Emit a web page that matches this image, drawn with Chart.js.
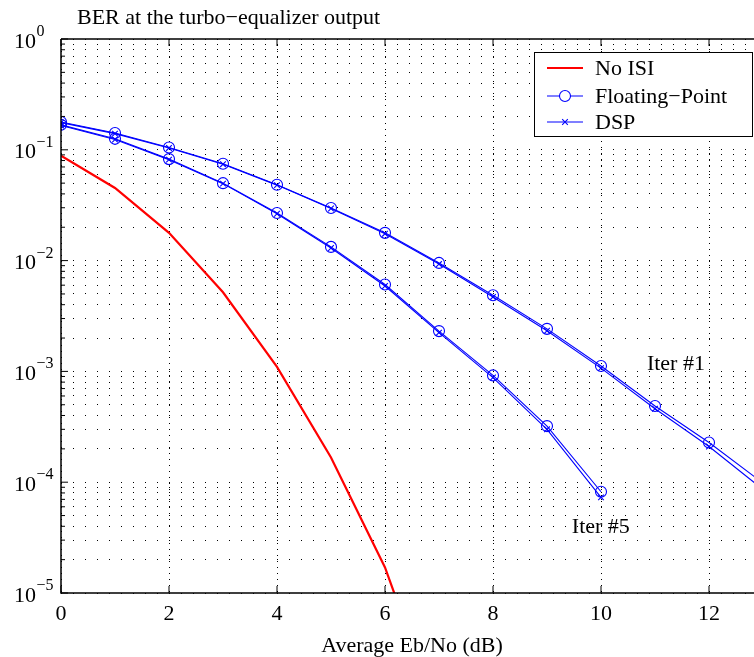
<!DOCTYPE html>
<html>
<head>
<meta charset="utf-8">
<script src="https://cdn.jsdelivr.net/npm/chart.js@4/dist/chart.umd.min.js"></script>
<style>
  html, body { margin: 0; padding: 0; background: #fff; }
  #wrap { width: 754px; height: 657px; overflow: hidden; position: relative; }
</style>
</head>
<body>
<div id="wrap"><canvas id="ber" width="780" height="657"></canvas></div>
<script>
// BER vs Eb/No, turbo-equalizer output
const ebnoNoIsi = [0, 1, 2, 3, 4, 5, 6, 7];
const noIsi = [0.0883, 0.0452, 0.0178, 0.00518, 0.0011, 0.000167, 0.0000170, 0.00000076];

const ebnoIter1 = [0, 1, 2, 3, 4, 5, 6, 7, 8, 9, 10, 11, 12, 13];
const floatIter1 = [0.178, 0.142, 0.105, 0.0748, 0.0484, 0.0298, 0.0178, 0.00953, 0.00487, 0.00242, 0.00112, 0.000487, 0.000228, 0.000098];
const dspIter1 = [0.176, 0.140, 0.104, 0.0742, 0.0480, 0.0295, 0.0175, 0.0093, 0.0047, 0.00233, 0.00107, 0.00046, 0.00021, 0.000086];

const ebnoIter5 = [0, 1, 2, 3, 4, 5, 6, 7, 8, 9, 10];
const floatIter5 = [0.168, 0.1256, 0.0824, 0.050, 0.0269, 0.0133, 0.00608, 0.00231, 0.00092, 0.000321, 0.000082];
const dspIter5 = [0.166, 0.124, 0.0815, 0.0495, 0.0265, 0.0130, 0.0059, 0.00224, 0.00088, 0.000300, 0.000073];

const xTicks = [0, 2, 4, 6, 8, 10, 12];
const yDecades = [0, -1, -2, -3, -4, -5];

const iterLabels = [
    { text: 'Iter #1', x: 10.85, y: 0.00104 },
    { text: 'Iter #5', x: 9.46, y: 0.0000347 }
];

const BLUE = 'rgb(0,0,255)';
const RED = 'rgb(255,0,0)';
const FONT = '"Liberation Serif", "Times New Roman", serif';

function pts(xs, ys) {
    return xs.map((x, i) => ({ x: x, y: ys[i] }));
}

function blueSet(label, xs, ys, style, radius) {
    return {
        label: label,
        data: pts(xs, ys),
        borderColor: BLUE,
        backgroundColor: 'rgba(0,0,0,0)',
        borderWidth: 1.1,
        pointStyle: style,
        pointRadius: radius,
        pointBorderWidth: 1.1,
        tension: 0
    };
}

// draws the axes frame, inside ticks, title, y labels, legend and text notes
const decorPlugin = {
    id: 'decor',
    afterDraw(chart) {
        const ctx = chart.ctx;
        const a = chart.chartArea;
        const xs = chart.scales.x;
        const ys = chart.scales.y;
        ctx.save();

        // frame
        ctx.strokeStyle = '#000';
        ctx.lineWidth = 1.5;
        ctx.beginPath();
        ctx.moveTo(a.left, a.top);
        ctx.lineTo(a.right, a.top);
        ctx.moveTo(a.left, a.top);
        ctx.lineTo(a.left, a.bottom);
        ctx.lineTo(a.right, a.bottom);
        ctx.stroke();

        // inside ticks
        ctx.lineWidth = 1;
        ctx.beginPath();
        xTicks.forEach(v => {
            const px = xs.getPixelForValue(v);
            ctx.moveTo(px, a.bottom);
            ctx.lineTo(px, a.bottom - 7);
            ctx.moveTo(px, a.top);
            ctx.lineTo(px, a.top + 7);
        });
        ys.ticks.forEach(t => {
            const py = ys.getPixelForValue(t.value);
            const major = Math.abs(Math.log10(t.value) - Math.round(Math.log10(t.value))) < 1e-9;
            ctx.moveTo(a.left, py);
            ctx.lineTo(a.left + (major ? 7 : 4), py);
        });
        ctx.stroke();

        ctx.fillStyle = '#000';
        ctx.textBaseline = 'alphabetic';
        ctx.textAlign = 'left';

        // title
        ctx.font = '22px ' + FONT;
        ctx.fillText('BER at the turbo\u2212equalizer output', 77, 24);

        // y labels 10^e
        yDecades.forEach(e => {
            const py = ys.getPixelForValue(Math.pow(10, e));
            ctx.font = '22px ' + FONT;
            ctx.fillText('10', 14, py + 8.5);
            const w = ctx.measureText('10').width;
            ctx.font = '16px ' + FONT;
            ctx.fillText(e === 0 ? '0' : '\u2212' + (-e), 14 + w + 0.5, py - 3);
        });

        // notes
        ctx.font = '22px ' + FONT;
        iterLabels.forEach(n => {
            ctx.fillText(n.text, xs.getPixelForValue(n.x), ys.getPixelForValue(n.y));
        });

        // legend
        const bx = 534, by = 52, bw = 218, bh = 84;
        ctx.fillStyle = '#fff';
        ctx.fillRect(bx, by, bw, bh);
        ctx.strokeStyle = '#000';
        ctx.lineWidth = 1;
        ctx.strokeRect(bx + 0.5, by + 0.5, bw, bh);
        const entries = [
            { ds: 0, y: 68 },
            { ds: 1, y: 96 },
            { ds: 2, y: 122 }
        ];
        entries.forEach(en => {
            const d = chart.data.datasets[en.ds];
            ctx.strokeStyle = d.borderColor;
            ctx.lineWidth = d.borderWidth;
            ctx.beginPath();
            ctx.moveTo(547, en.y);
            ctx.lineTo(583, en.y);
            ctx.stroke();
            if (d.pointRadius > 0) {
                ctx.fillStyle = '#fff';
                Chart.helpers.drawPoint(ctx, {
                    pointStyle: d.pointStyle,
                    radius: d.pointRadius,
                    rotation: 0,
                    borderWidth: d.pointBorderWidth
                }, 565, en.y);
            }
            ctx.fillStyle = '#000';
            ctx.font = '22px ' + FONT;
            ctx.textBaseline = 'middle';
            ctx.fillText(d.label, 595, en.y + 1);
        });
        ctx.restore();
    }
};

new Chart(document.getElementById('ber'), {
    type: 'line',
    data: {
        datasets: [
            {
                label: 'No ISI',
                data: pts(ebnoNoIsi, noIsi),
                borderColor: RED,
                backgroundColor: RED,
                borderWidth: 2.2,
                pointRadius: 0,
                tension: 0
            },
            blueSet('Floating\u2212Point', ebnoIter1, floatIter1, 'circle', 5.5),
            blueSet('DSP', ebnoIter1, dspIter1, 'crossRot', 4),
            blueSet('Floating\u2212Point', ebnoIter5, floatIter5, 'circle', 5.5),
            blueSet('DSP', ebnoIter5, dspIter5, 'crossRot', 4)
        ]
    },
    options: {
        responsive: false,
        animation: false,
        layout: { padding: { left: 61, right: 17, top: 39, bottom: 0 } },
        plugins: {
            legend: { display: false },
            title: { display: false },
            tooltip: { enabled: false }
        },
        scales: {
            x: {
                type: 'linear',
                min: 0,
                max: 13,
                afterBuildTicks: (scale) => { scale.ticks = xTicks.map(v => ({ value: v })); },
                grid: {
                    color: '#000',
                    lineWidth: 1,
                    drawTicks: false
                },
                border: { display: false, dash: [1, 5] },
                ticks: {
                    color: '#000',
                    padding: 10,
                    maxRotation: 0,
                    font: { family: FONT, size: 22, lineHeight: 1 }
                },
                title: {
                    display: true,
                    text: 'Average Eb/No (dB)',
                    color: '#000',
                    font: { family: FONT, size: 22, lineHeight: 1 },
                    padding: { top: 0, bottom: 0 }
                }
            },
            y: {
                type: 'logarithmic',
                min: 1e-5,
                max: 1,
                afterBuildTicks: (scale) => {
                    const t = [];
                    for (let e = -5; e <= 0; e++) {
                        for (let k = 1; k <= 9; k++) {
                            const v = k * Math.pow(10, e);
                            if (v <= 1 + 1e-12) t.push({ value: v });
                        }
                    }
                    scale.ticks = t;
                },
                grid: {
                    color: '#000',
                    lineWidth: 1,
                    drawTicks: false
                },
                border: { display: false, dash: [1, 11] },
                ticks: { display: false }
            }
        }
    },
    plugins: [decorPlugin]
});
</script>
</body>
</html>
